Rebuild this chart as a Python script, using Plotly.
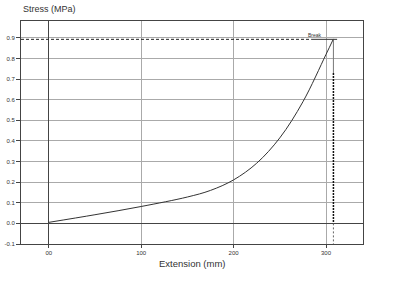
import plotly.graph_objects as go

# Data
extension = [0, 50, 100, 150, 175, 200, 225, 250, 275, 300, 308]
stress = [0.005, 0.042, 0.082, 0.128, 0.160, 0.211, 0.292, 0.415, 0.59, 0.82, 0.895]
break_x = 308
break_y = 0.893
x_ticks = [0, 100, 200, 300]
x_tick_labels = ["00", "100", "200", "300"]
y_ticks = [-0.1, 0.0, 0.1, 0.2, 0.3, 0.4, 0.5, 0.6, 0.7, 0.8, 0.9]
y_tick_labels = ["-0.1", "0.0", "0.1", "0.2", "0.3", "0.4", "0.5", "0.6", "0.7", "0.8", "0.9"]

fig = go.Figure()

# dashed horizontal line at break stress
fig.add_trace(go.Scatter(x=[-30, 284], y=[break_y, break_y], mode="lines",
                         line=dict(color="#222", width=1, dash="3px,2px"), hoverinfo="skip"))
# solid underline of label
fig.add_trace(go.Scatter(x=[284, 312], y=[break_y, break_y], mode="lines",
                         line=dict(color="#333", width=1), hoverinfo="skip"))
# thin vertical line from break
fig.add_trace(go.Scatter(x=[break_x, break_x], y=[break_y, 0.73], mode="lines",
                         line=dict(color="#777", width=1), hoverinfo="skip"))
# dark dashed vertical line
fig.add_trace(go.Scatter(x=[break_x, break_x], y=[0.73, 0.0], mode="lines",
                         line=dict(color="#111", width=1.5, dash="2px,1px"), hoverinfo="skip"))
# lighter dotted below zero
fig.add_trace(go.Scatter(x=[break_x, break_x], y=[0.0, -0.1], mode="lines",
                         line=dict(color="#666", width=1, dash="2px,2px"), hoverinfo="skip"))

# curve
fig.add_trace(go.Scatter(x=extension, y=stress, mode="lines",
                         line=dict(color="#333", width=1, shape="spline", smoothing=1.0),
                         hoverinfo="skip"))

font_family = "Liberation Sans, Arial, sans-serif"

fig.update_layout(
    width=400, height=282,
    margin=dict(l=21, r=37, t=21, b=38),
    paper_bgcolor="white", plot_bgcolor="white",
    showlegend=False,
    font=dict(family=font_family, color="#333"),
    xaxis=dict(range=[-30, 340], tickvals=x_ticks, ticktext=x_tick_labels,
               automargin=False,
               showgrid=True, gridcolor="#aaa", gridwidth=1,
               zeroline=True, zerolinecolor="#444", zerolinewidth=1,
               showline=True, linecolor="#444", linewidth=1, mirror=True,
               ticks="outside", ticklen=3, tickcolor="#444",
               tickfont=dict(size=6, color="#333")),
    yaxis=dict(range=[-0.1, 0.982], tickvals=y_ticks, ticktext=y_tick_labels,
               automargin=False,
               showgrid=True, gridcolor="#aaa", gridwidth=1,
               zeroline=True, zerolinecolor="#444", zerolinewidth=1,
               showline=True, linecolor="#444", linewidth=1, mirror=True,
               ticks="outside", ticklen=4, tickcolor="#444",
               tickfont=dict(size=6, color="#333")),
    annotations=[
        dict(text="Stress (MPa)", xref="paper", yref="paper", x=0, y=1,
             xanchor="left", yanchor="bottom", xshift=0, yshift=5, showarrow=False,
             font=dict(size=9, color="#333")),
        dict(text="Extension (mm)", xref="paper", yref="paper", x=0.5, y=0,
             xanchor="center", yanchor="top", yshift=-12, showarrow=False,
             font=dict(size=9.5, color="#333")),
        dict(text="Break", x=298, y=break_y, xref="x", yref="y",
             xanchor="right", yanchor="bottom", yshift=-1, showarrow=False,
             font=dict(size=5, color="#333")),
    ],
)

fig.write_html("out.html")
